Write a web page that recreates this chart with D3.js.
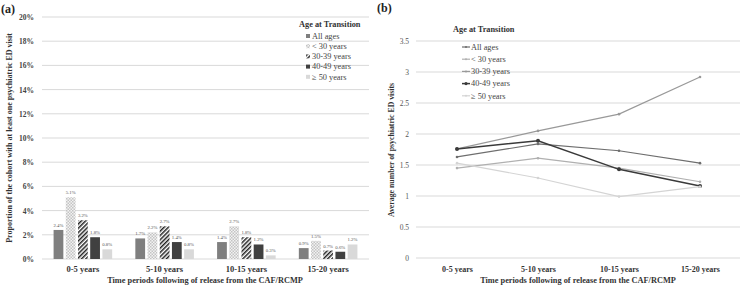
<!DOCTYPE html>
<html>
<head>
<script src="https://d3js.org/d3.v7.min.js"></script>
<style>
  body { margin: 0; background: #fff; }
  text { font-family: "Liberation Serif", "DejaVu Serif", serif; }
</style>
</head>
<body>
<svg id="chart" width="741" height="285"></svg>
<script>
// ---- data ----
var periods = ["0-5 years", "5-10 years", "10-15 years", "15-20 years"];
var groups = ["All ages", "< 30 years", "30-39 years", "40-49 years", "\u2265 50 years"];

// panel (a): proportion (%) with at least one psychiatric ED visit
var propAll = [2.4, 1.7, 1.4, 0.9];
var propU30 = [5.1, 2.2, 2.7, 1.5];
var prop3039 = [3.2, 2.7, 1.8, 0.7];
var prop4049 = [1.8, 1.4, 1.2, 0.6];
var prop50 = [0.8, 0.8, 0.3, 1.2];

// panel (b): average number of psychiatric ED visits
var avgAll = [1.63, 1.84, 1.73, 1.53];
var avgU30 = [1.45, 1.61, 1.45, 1.23];
var avg3039 = [1.76, 2.05, 2.32, 2.92];
var avg4049 = [1.76, 1.89, 1.43, 1.16];
var avg50 = [1.53, 1.29, 0.99, 1.15];

var yTicksA = [0, 2, 4, 6, 8, 10, 12, 14, 16, 18, 20];
var yTicksB = [0, 0.5, 1, 1.5, 2, 2.5, 3, 3.5];

var propSeries = [propAll, propU30, prop3039, prop4049, prop50];
var avgSeries = [avgAll, avgU30, avg3039, avg4049, avg50];

var svg = d3.select("#chart");

// patterns
var defs = svg.append("defs");
var dots = defs.append("pattern").attr("id", "dots")
  .attr("width", 3).attr("height", 3).attr("patternUnits", "userSpaceOnUse");
dots.append("rect").attr("width", 3).attr("height", 3).attr("fill", "#f2f2f2");
dots.append("rect").attr("width", 1.5).attr("height", 1.5).attr("fill", "#c4c4c4");
dots.append("rect").attr("x", 1.5).attr("y", 1.5).attr("width", 1.5).attr("height", 1.5).attr("fill", "#c4c4c4");

var stripes = defs.append("pattern").attr("id", "stripes")
  .attr("width", 3).attr("height", 3).attr("patternUnits", "userSpaceOnUse")
  .attr("patternTransform", "rotate(-45)");
stripes.append("rect").attr("width", 3).attr("height", 3).attr("fill", "#fff");
stripes.append("rect").attr("width", 3).attr("height", 1.5).attr("fill", "#222");

var barFills = ["#7f7f7f", "url(#dots)", "url(#stripes)", "#404040", "#d9d9d9"];
var lineColors = ["#6e6e6e", "#b0b0b0", "#999999", "#3a3a3a", "#d4d4d4"];

// ================= panel (a) =================
var xA = d3.scaleBand().domain(periods).range([42, 369]);
var yA = d3.scaleLinear().domain([0, 20]).range([259, 17]);
var xInner = d3.scaleBand().domain(groups).range([0, xA.bandwidth()]).paddingInner(0.2).paddingOuter(0.95);

var gA = svg.append("g");
gA.append("g").selectAll("line").data(yTicksA).join("line")
  .attr("x1", 42).attr("x2", 369)
  .attr("y1", d => yA(d)).attr("y2", d => yA(d))
  .attr("stroke", "#d9d9d9").attr("stroke-width", 1);

gA.append("g").attr("transform", "translate(42,0)")
  .call(d3.axisLeft(yA).tickValues(yTicksA).tickFormat(d => d + "%").tickSize(0).tickPadding(8))
  .call(g => g.select(".domain").remove())
  .call(g => g.selectAll("text").attr("font-size", 7.5).attr("font-weight", "bold").attr("fill", "#444")
    .attr("font-family", "Liberation Serif"));

gA.append("g").attr("transform", "translate(0,259)")
  .call(d3.axisBottom(xA).tickSize(0).tickPadding(7))
  .call(g => g.select(".domain").remove())
  .call(g => g.selectAll("text").attr("font-size", 8.5).attr("font-weight", "bold").attr("fill", "#333")
    .attr("font-family", "Liberation Serif"));

propSeries.forEach(function (vals, si) {
  var g = gA.append("g");
  g.selectAll("rect").data(vals).join("rect")
    .attr("x", (d, i) => xA(periods[i]) + xInner(groups[si]))
    .attr("width", xInner.bandwidth())
    .attr("y", d => yA(d))
    .attr("height", d => yA(0) - yA(d))
    .attr("fill", barFills[si]);
  g.selectAll("text").data(vals).join("text")
    .attr("x", (d, i) => xA(periods[i]) + xInner(groups[si]) + xInner.bandwidth() / 2)
    .attr("y", d => yA(d) - 3)
    .attr("text-anchor", "middle")
    .attr("font-size", 4.8)
    .attr("fill", "#555")
    .text(d => d.toFixed(1) + "%");
});

gA.append("text").attr("transform", "translate(12,138) rotate(-90)")
  .attr("text-anchor", "middle").attr("font-size", 8).attr("font-weight", "bold").attr("fill", "#333")
  .text("Proportion of the cohort with at least one psychiatric ED visit");

gA.append("text").attr("x", 205).attr("y", 283)
  .attr("text-anchor", "middle").attr("font-size", 8.3).attr("font-weight", "bold").attr("fill", "#333")
  .text("Time periods following of release from the CAF/RCMP");

gA.append("text").attr("x", 1).attr("y", 13)
  .attr("font-size", 12).attr("font-weight", "bold").attr("fill", "#222").text("(a)");

var legA = gA.append("g");
legA.append("text").attr("x", 299).attr("y", 27).attr("font-size", 8.3).attr("font-weight", "bold").attr("fill", "#333")
  .text("Age at Transition");
groups.forEach(function (gname, i) {
  var yy = 37 + i * 10.2;
  legA.append("rect").attr("x", 306).attr("y", yy - 3).attr("width", 4).attr("height", 4).attr("fill", barFills[i]);
  legA.append("text").attr("x", 312).attr("y", yy + 1.8).attr("font-size", 8.3).attr("fill", "#444").text(gname);
});

// ================= panel (b) =================
var xB = d3.scalePoint().domain(periods).range([457, 700]);
var yB = d3.scaleLinear().domain([0, 3.5]).range([258, 41]);

var gB = svg.append("g");
gB.append("g").selectAll("line").data(yTicksB).join("line")
  .attr("x1", 416).attr("x2", 740)
  .attr("y1", d => yB(d)).attr("y2", d => yB(d))
  .attr("stroke", "#d9d9d9").attr("stroke-width", 1);

gB.append("g").attr("transform", "translate(416,0)")
  .call(d3.axisLeft(yB).tickValues(yTicksB).tickFormat(d3.format("")).tickSize(0).tickPadding(7))
  .call(g => g.select(".domain").remove())
  .call(g => g.selectAll("text").attr("font-size", 7.5).attr("fill", "#555")
    .attr("font-family", "Liberation Serif"));

gB.append("g").attr("transform", "translate(0,258)")
  .call(d3.axisBottom(xB).tickSize(0).tickPadding(8))
  .call(g => g.select(".domain").remove())
  .call(g => g.selectAll("text").attr("font-size", 8).attr("font-weight", "bold").attr("fill", "#333")
    .attr("font-family", "Liberation Serif"));

var line = d3.line().x((d, i) => xB(periods[i])).y(d => yB(d));
avgSeries.forEach(function (vals, si) {
  gB.append("path").datum(vals).attr("d", line)
    .attr("fill", "none").attr("stroke", lineColors[si]).attr("stroke-width", si === 3 ? 1.5 : 1.2);
  gB.append("g").selectAll("circle").data(vals).join("circle")
    .attr("cx", (d, i) => xB(periods[i])).attr("cy", d => yB(d))
    .attr("r", si === 3 ? 2 : 1.3).attr("fill", lineColors[si]);
});

gB.append("text").attr("transform", "translate(394,150) rotate(-90)")
  .attr("text-anchor", "middle").attr("font-size", 7.8).attr("font-weight", "bold").attr("fill", "#333")
  .text("Average number of psychiatric ED visits");

gB.append("text").attr("x", 578).attr("y", 283)
  .attr("text-anchor", "middle").attr("font-size", 8.3).attr("font-weight", "bold").attr("fill", "#333")
  .text("Time periods following of release from the CAF/RCMP");

gB.append("text").attr("x", 377).attr("y", 12)
  .attr("font-size", 12).attr("font-weight", "bold").attr("fill", "#222").text("(b)");

var legB = gB.append("g");
legB.append("text").attr("x", 453).attr("y", 32).attr("font-size", 8.3).attr("font-weight", "bold").attr("fill", "#333")
  .text("Age at Transition");
groups.forEach(function (gname, i) {
  var yy = 47 + i * 12.2;
  legB.append("line").attr("x1", 462).attr("x2", 470).attr("y1", yy).attr("y2", yy)
    .attr("stroke", lineColors[i]).attr("stroke-width", i === 3 ? 1.5 : 1.2);
  legB.append("circle").attr("cx", 466).attr("cy", yy).attr("r", i === 3 ? 1.6 : 1).attr("fill", lineColors[i]);
  legB.append("text").attr("x", 471).attr("y", yy + 2.8).attr("font-size", 8.3).attr("fill", "#444").text(gname);
});
</script>
</body>
</html>
